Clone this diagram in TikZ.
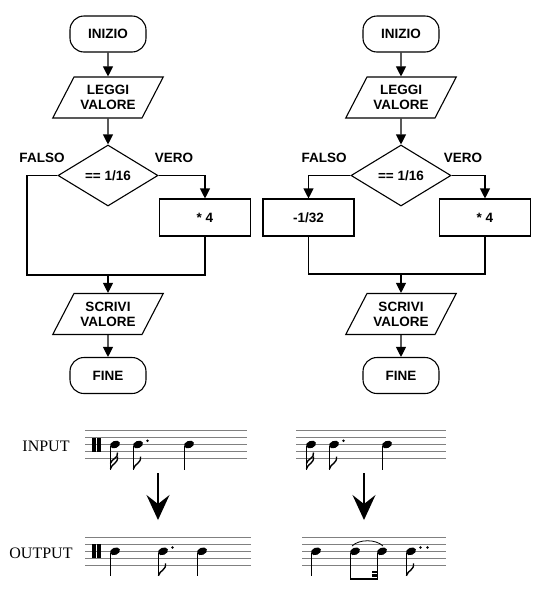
\documentclass[tikz,border=0pt]{standalone}
\usepackage{fontspec}
\setmainfont{Liberation Serif}
\setsansfont{Liberation Sans}
\usetikzlibrary{shapes.geometric,arrows.meta}
\tikzset{%
  box/.style      = {draw, line width=1.1pt, align=center, inner sep=1pt,%
                     font=\sffamily\bfseries\fontsize{13.5}{15}\selectfont},%
  terminal/.style = {box, rounded corners=14pt, minimum width=76pt, minimum height=36pt},%
  io/.style       = {box, trapezium, trapezium left angle=56, trapezium right angle=124,%
                     trapezium stretches=true, minimum width=111pt, minimum height=41pt},%
  test/.style     = {box, diamond, minimum width=100pt, minimum height=61pt, inner sep=0pt},%
  opbox/.style    = {box, minimum width=91pt, minimum height=37pt},%
  lbl/.style      = {font=\sffamily\bfseries\fontsize{13.5}{15}\selectfont},%
  wire/.style     = {line width=1.1pt},%
  flow/.style     = {wire, -{Triangle[length=10pt,width=10pt]}},%
  staffline/.style= {black!50, line width=0.8pt},%
  stem/.style     = {line width=1.1pt},%
  flag/.style     = {line width=1.4pt},%
  bigarrow/.style = {line width=1.6pt, -{Stealth[length=25pt,width=23pt,inset=9pt]}},%
  notehead/.pic   = {\fill[rotate=22] (0,0) ellipse [x radius=5.2pt, y radius=3.6pt];},%
  quarter/.pic    = {\pic {notehead}; \draw[stem] (-4.6,1.6) -- (-4.6,25);},%
  eighth/.pic     = {\pic {quarter};
                     \draw[flag] (-4.6,24.5) .. controls (-3.5,19) and (3.5,19) .. (2.5,12);},%
  sixteenth/.pic  = {\pic {quarter};
                     \draw[flag] (-4.6,24.5) .. controls (-3.5,19) and (3.5,19) .. (2.5,12);
                     \draw[flag] (-4.6,19) .. controls (-3.5,14) and (3.5,14) .. (2.5,8);},%
  notedot/.pic    = {\fill (9.5,-3.8) circle [radius=1.3pt];},%
  clef/.pic       = {\fill (0,-7) rectangle (3.5,7); \fill (5,-7) rectangle (8.5,7);}%
}
\begin{document}
\begin{tikzpicture}[x=1pt,y=-1pt]
\useasboundingbox (0,0) rectangle (556,611);
% left flowchart
\node[terminal] (inizio1) at (108,34) {INIZIO};
\node[io] (leggi1) at (108,97.5) {LEGGI\\VALORE};
\node[test] (test1) at (108,175.5) {== 1/16};
\node[opbox] (per1) at (205,217.5) {* 4};
\node[io] (scrivi1) at (108,314) {SCRIVI\\VALORE};
\node[terminal] (fine1) at (108,375.5) {FINE};
\node[lbl] (falso1) at (42,158) {FALSO};
\node[lbl] (vero1) at (174,158) {VERO};
\coordinate (join1) at (108,275);
\coordinate (side1) at (27,275);
\draw[flow] (inizio1) -- (leggi1);
\draw[flow] (leggi1) -- (test1);
\draw[flow] (test1.east) -| (per1.north);
\draw[wire] (test1.west) -| (side1) -- (join1);
\draw[wire] (per1.south) |- (join1);
\draw[flow] (join1) -- (scrivi1);
\draw[flow] (scrivi1) -- (fine1);
% right flowchart
\node[terminal] (inizio2) at (401,34) {INIZIO};
\node[io] (leggi2) at (401,97.5) {LEGGI\\VALORE};
\node[test] (test2) at (401,175.5) {== 1/16};
\node[opbox] (meno2) at (308.5,217.5) {-1/32};
\node[opbox] (per2) at (485,217.5) {* 4};
\node[io] (scrivi2) at (401,314) {SCRIVI\\VALORE};
\node[terminal] (fine2) at (401,375.5) {FINE};
\node[lbl] (falso2) at (324,158) {FALSO};
\node[lbl] (vero2) at (463,158) {VERO};
\coordinate (join2) at (401,274);
\draw[flow] (inizio2) -- (leggi2);
\draw[flow] (leggi2) -- (test2);
\draw[flow] (test2.west) -| (meno2.north);
\draw[flow] (test2.east) -| (per2.north);
\draw[wire] (meno2.south) |- (join2);
\draw[wire] (per2.south) |- (join2);
\draw[flow] (join2) -- (scrivi2);
\draw[flow] (scrivi2) -- (fine2);
% staves
\node (input) at (46,446) {\fontsize{16}{18}\selectfont INPUT};
\node (output) at (41,553) {\fontsize{16}{18}\selectfont OUTPUT};
\foreach \k in {0,...,4} {
  \draw[staffline] (85,430.7+6.9*\k) -- (247,430.7+6.9*\k);
  \draw[staffline] (296,430.7+6.9*\k) -- (446,430.7+6.9*\k);
  \draw[staffline] (85,537.3+7*\k) -- (251,537.3+7*\k);
  \draw[staffline] (302,537.3+7*\k) -- (446,537.3+7*\k);
}
\pic at (92,444.5) {clef};
\pic at (92,551.3) {clef};
% left input and output
\pic at (115,444.5) {sixteenth};
\pic at (138,444.5) {eighth};
\pic at (138,444.5) {notedot};
\pic at (189,444.5) {quarter};
\pic at (115,551.3) {quarter};
\pic at (163,551.3) {eighth};
\pic at (163,551.3) {notedot};
\pic at (202,551.3) {quarter};
% right input and output
\pic at (311,444.5) {sixteenth};
\pic at (334,444.5) {eighth};
\pic at (334,444.5) {notedot};
\pic at (387,444.5) {quarter};
\pic at (316,551.3) {quarter};
\pic at (355,551.3) {notehead};
\pic at (382,551.3) {notehead};
\draw[stem] (350.4,552.9) -- (350.4,579);
\draw[stem] (377.4,552.9) -- (377.4,579);
\fill (349.9,577.6) rectangle (377.9,580.4);
\fill (372,570.6) rectangle (377.9,573.2);
\fill (372,574.4) rectangle (377.9,577);
\draw[line width=0.8pt] (352,546) .. controls (359,539) and (376,539) .. (383,546);
\pic at (411,551.3) {eighth};
\pic at (411,551.3) {notedot};
\pic at (418,551.3) {notedot};
% transformation arrows
\coordinate (from1) at (158,473);
\coordinate (to1) at (158,520);
\coordinate (from2) at (364,473);
\coordinate (to2) at (364,520);
\draw[bigarrow] (from1) -- (to1);
\draw[bigarrow] (from2) -- (to2);
\end{tikzpicture}
\end{document}
